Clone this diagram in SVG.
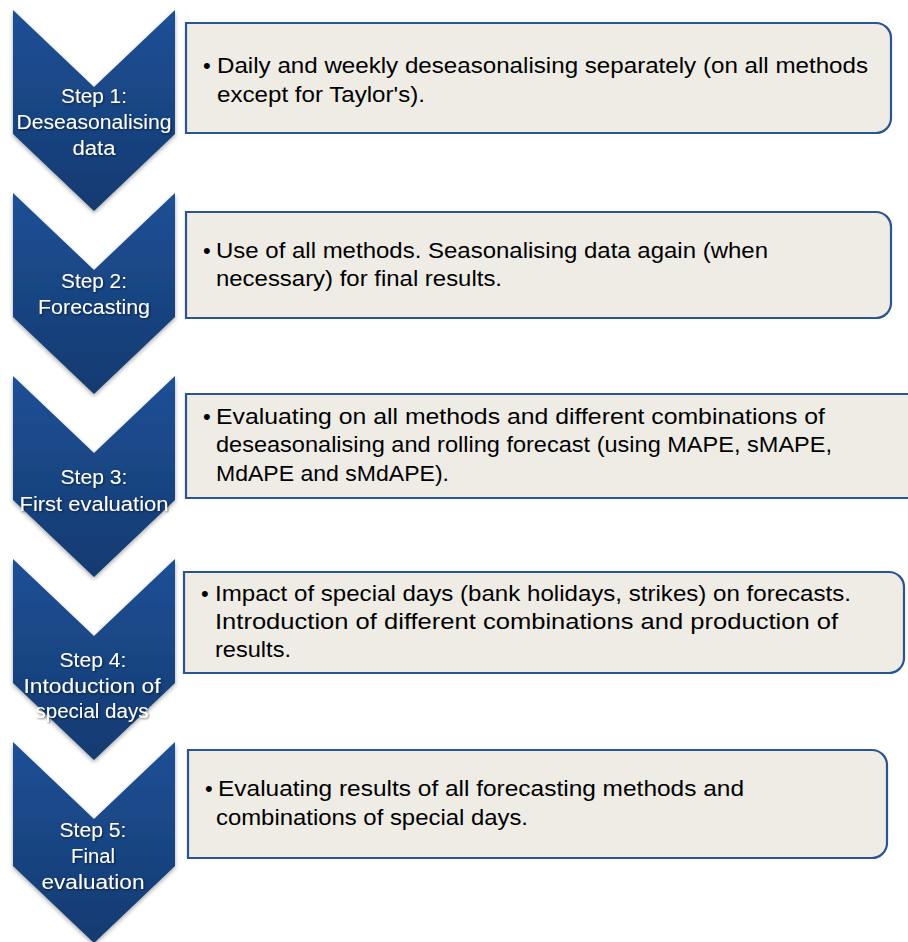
<svg xmlns="http://www.w3.org/2000/svg" width="908" height="942" viewBox="0 0 908 942">
  <defs>
    <linearGradient id="chevFill" x1="0" y1="0" x2="0" y2="1">
      <stop offset="0" stop-color="#1f5096"/>
      <stop offset="1" stop-color="#133a70"/>
    </linearGradient>
    <filter id="chevShadow" x="-10%" y="-10%" width="120%" height="120%">
      <feDropShadow dx="0" dy="2" stdDeviation="2" flood-color="#000" flood-opacity="0.35"/>
    </filter>
    <filter id="textShadow" x="-10%" y="-30%" width="120%" height="160%">
      <feDropShadow dx="1" dy="1" stdDeviation="1" flood-color="#000" flood-opacity="0.55"/>
    </filter>
    <!-- downward chevron: width 162, notch/tip depth 77, straight sides 124 -->
    <path id="chevron" d="M0 0 L81 77 L162 0 L162 124 L81 201 L0 124 Z"/>
  </defs>
  <style>
    .chev { fill: url(#chevFill); filter: url(#chevShadow); }
    .chevText { font-family: "Liberation Sans", Arial, sans-serif; font-size: 20px; fill: #ffffff; text-anchor: middle; filter: url(#textShadow); }
    .box { fill: #eeece5; stroke: #2a5592; stroke-width: 2.2; }
    .boxText { font-family: "Liberation Sans", Arial, sans-serif; font-size: 22px; fill: #000000; }
  </style>

  <rect width="908" height="942" fill="#ffffff"/>

  <!-- Step 1 -->
  <g id="step1">
    <use href="#chevron" class="chev" x="13" y="10"/>
    <text class="chevText" x="94" y="103" textLength="66" lengthAdjust="spacingAndGlyphs">Step 1:</text>
    <text class="chevText" x="94" y="129" textLength="155" lengthAdjust="spacingAndGlyphs">Deseasonalising</text>
    <text class="chevText" x="94" y="155" textLength="43" lengthAdjust="spacingAndGlyphs">data</text>
  </g>
  <g id="box1">
    <path class="box" d="M186 23 H876 A15 15 0 0 1 891 38 V118 A15 15 0 0 1 876 133 H186 Z"/>
    <text class="boxText" x="203" y="73">•</text>
    <text class="boxText" x="217" y="73" textLength="651" lengthAdjust="spacingAndGlyphs">Daily and weekly deseasonalising separately (on all methods</text>
    <text class="boxText" x="217" y="102" textLength="208" lengthAdjust="spacingAndGlyphs">except for Taylor's).</text>
  </g>

  <!-- Step 2 -->
  <g id="step2">
    <use href="#chevron" class="chev" x="13" y="193"/>
    <text class="chevText" x="94" y="288" textLength="66" lengthAdjust="spacingAndGlyphs">Step 2:</text>
    <text class="chevText" x="94" y="314" textLength="112" lengthAdjust="spacingAndGlyphs">Forecasting</text>
  </g>
  <g id="box2">
    <path class="box" d="M186 212 H876 A15 15 0 0 1 891 227 V303 A15 15 0 0 1 876 318 H186 Z"/>
    <text class="boxText" x="203" y="258">•</text>
    <text class="boxText" x="216" y="258" textLength="552" lengthAdjust="spacingAndGlyphs">Use of all methods. Seasonalising data again (when</text>
    <text class="boxText" x="216" y="286" textLength="286" lengthAdjust="spacingAndGlyphs">necessary) for final results.</text>
  </g>

  <!-- Step 3 -->
  <g id="step3">
    <use href="#chevron" class="chev" x="13" y="376"/>
    <text class="chevText" x="94" y="484" textLength="67" lengthAdjust="spacingAndGlyphs">Step 3:</text>
    <text class="chevText" x="94" y="511" textLength="149" lengthAdjust="spacingAndGlyphs">First evaluation</text>
  </g>
  <g id="box3">
    <path class="box" d="M186 394 H910 A15 15 0 0 1 925 409 V483 A15 15 0 0 1 910 498 H186 Z"/>
    <text class="boxText" x="203" y="424">•</text>
    <text class="boxText" x="216" y="424" textLength="609" lengthAdjust="spacingAndGlyphs">Evaluating on all methods and different combinations of</text>
    <text class="boxText" x="216" y="452" textLength="616" lengthAdjust="spacingAndGlyphs">deseasonalising and rolling forecast (using MAPE, sMAPE,</text>
    <text class="boxText" x="216" y="481" textLength="233" lengthAdjust="spacingAndGlyphs">MdAPE and sMdAPE).</text>
  </g>

  <!-- Step 4 -->
  <g id="step4">
    <use href="#chevron" class="chev" x="13" y="559"/>
    <text class="chevText" x="93" y="667" textLength="67" lengthAdjust="spacingAndGlyphs">Step 4:</text>
    <text class="chevText" x="92" y="693" textLength="137" lengthAdjust="spacingAndGlyphs">Intoduction of</text>
    <text class="chevText" x="92" y="718" textLength="113" lengthAdjust="spacingAndGlyphs">special days</text>
  </g>
  <g id="box4">
    <path class="box" d="M184 572 H889 A15 15 0 0 1 904 587 V658 A15 15 0 0 1 889 673 H184 Z"/>
    <text class="boxText" x="201" y="601">•</text>
    <text class="boxText" x="215" y="601" textLength="636" lengthAdjust="spacingAndGlyphs">Impact of special days (bank holidays, strikes) on forecasts.</text>
    <text class="boxText" x="215" y="629" textLength="623" lengthAdjust="spacingAndGlyphs">Introduction of different combinations and  production of</text>
    <text class="boxText" x="215" y="657" textLength="76" lengthAdjust="spacingAndGlyphs">results.</text>
  </g>

  <!-- Step 5 -->
  <g id="step5">
    <use href="#chevron" class="chev" x="13" y="742"/>
    <text class="chevText" x="93" y="837" textLength="67" lengthAdjust="spacingAndGlyphs">Step 5:</text>
    <text class="chevText" x="93" y="863" textLength="44" lengthAdjust="spacingAndGlyphs">Final</text>
    <text class="chevText" x="93" y="889" textLength="103" lengthAdjust="spacingAndGlyphs">evaluation</text>
  </g>
  <g id="box5">
    <path class="box" d="M188 750 H872 A15 15 0 0 1 887 765 V843 A15 15 0 0 1 872 858 H188 Z"/>
    <text class="boxText" x="205" y="796">•</text>
    <text class="boxText" x="218" y="796" textLength="526" lengthAdjust="spacingAndGlyphs">Evaluating results of all forecasting methods and</text>
    <text class="boxText" x="216" y="825" textLength="312" lengthAdjust="spacingAndGlyphs">combinations of special days.</text>
  </g>

  <!-- no connectors: the chevrons themselves carry the flow -->
  <g id="connectors"/>
</svg>
